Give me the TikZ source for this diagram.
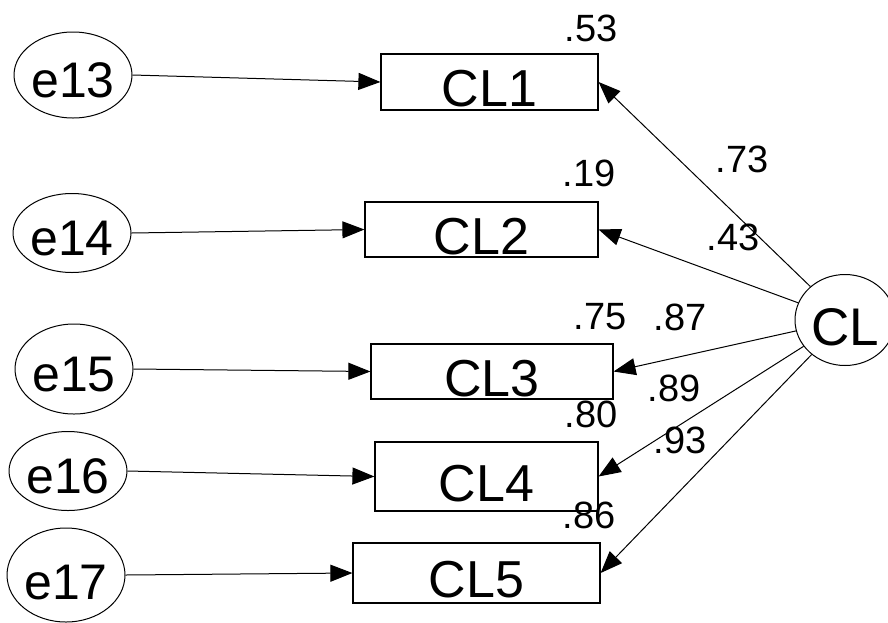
\documentclass[tikz,border=0pt]{standalone}
\usepackage{fontspec}
\setmainfont{Liberation Sans}
\usetikzlibrary{arrows.meta, shapes.geometric}

\begin{document}
\begin{tikzpicture}[
    x=1pt, y=-1pt,
    err/.style={ellipse, draw, line width=1pt, inner sep=0pt, minimum width=96pt, minimum height=84pt, text height=44pt, text depth=0pt, font=\fontsize{50}{50}\selectfont},
    obs/.style={rectangle, draw, line width=1.2pt, inner sep=0pt, text height=49pt, text depth=0pt, font=\fontsize{52}{52}\selectfont},
    latent/.style={ellipse, draw, line width=1pt, inner sep=0pt, minimum width=100pt, minimum height=91pt, text height=50pt, text depth=0pt, font=\fontsize{53}{53}\selectfont},
    coef/.style={inner sep=0pt, font=\fontsize{38}{38}\selectfont},
    arr/.style={-{Triangle[length=22pt, width=17pt]}, line width=1pt}
  ]
  \useasboundingbox (0,0) rectangle (888,622);
  \clip (0,0) rectangle (888,622);

  % error terms
  \node[err, minimum width=100pt, minimum height=86pt] (e13) at (73, 75) {e13};
  \node[err, minimum width=90pt, minimum height=79pt] (e14) at (72, 233) {e14};
  \node[err, minimum width=98pt, minimum height=90pt] (e15) at (74, 369) {e15};
  \node[err, minimum width=90pt, minimum height=79pt] (e16) at (68, 471) {e16};
  \node[err, minimum width=107pt, minimum height=94pt, text height=48pt] (e17) at (66, 575) {e17};

  % observed items
  \node[obs, minimum width=217pt, minimum height=56pt] (CL1) at (489.5, 82) {CL1};
  \node[obs, minimum width=233pt, minimum height=55pt] (CL2) at (481.5, 229.5) {CL2};
  \node[obs, minimum width=242pt, minimum height=55pt] (CL3) at (492, 371.5) {CL3};
  \node[obs, minimum width=223pt, minimum height=69pt] (CL4) at (486.5, 476.5) {CL4};
  \node[obs, minimum width=247pt, minimum height=60pt] (CL5) at (476.5, 573) {CL5};

  % latent factor
  \node[latent] (CL) at (845, 320) {CL};

  % squared multiple correlations
  \node[coef] (r1) at (591, 28) {.53};
  \node[coef] (r2) at (589, 173) {.19};
  \node[coef] (r3) at (600, 317) {.75};
  \node[coef] (r4) at (591, 414) {.80};
  \node[coef] (r5) at (589, 515) {.86};

  % loadings
  \node[coef] (w1) at (742, 159) {.73};
  \node[coef] (w2) at (733, 237) {.43};
  \node[coef] (w3) at (680, 317) {.87};
  \node[coef] (w4) at (674, 388) {.89};
  \node[coef] (w5) at (680, 440) {.93};

  \draw[arr] (e13.east) -- (CL1.west);
  \draw[arr] (e14.east) -- (CL2.west);
  \draw[arr] (e15.east) -- (CL3.west);
  \draw[arr] (e16.east) -- (CL4.west);
  \draw[arr] (e17.east) -- (CL5.west);

  \draw[arr] (CL) -- (CL1.east);
  \draw[arr] (CL) -- (CL2.east);
  \draw[arr] (CL) -- (CL3.east);
  \draw[arr] (CL) -- (CL4.east);
  \draw[arr] (CL) -- (CL5.east);
\end{tikzpicture}
\end{document}
